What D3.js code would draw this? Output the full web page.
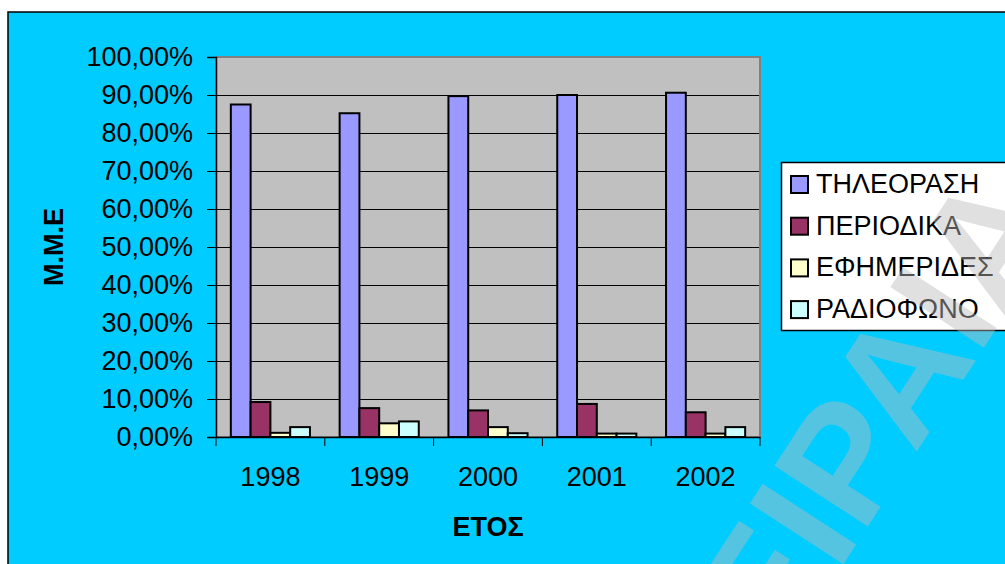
<!DOCTYPE html>
<html>
<head>
<meta charset="utf-8">
<script src="https://cdn.jsdelivr.net/npm/d3@7"></script>
<style>
  body { margin: 0; background: #fff; }
  svg { display: block; font-family: Arial, "Liberation Sans", sans-serif; }
</style>
</head>
<body>
<svg width="1005" height="564"></svg>
<script>
// years on the x axis
var years = ["1998", "1999", "2000", "2001", "2002"];
// media (series)
var series = ["ΤΗΛΕΟΡΑΣΗ", "ΠΕΡΙΟΔΙΚΑ", "ΕΦΗΜΕΡΙΔΕΣ", "ΡΑΔΙΟΦΩΝΟ"];
var seriesColors = ["#9999FF", "#993366", "#FFFFCC", "#CCFFFF"];
// values in percent, one list per medium
var tv = [87.5, 85.2, 89.7, 90.0, 90.6];
var magazines = [9.2, 7.6, 7.0, 8.7, 6.5];
var newspapers = [1.1, 3.6, 2.6, 0.9, 0.9];
var radio = [2.6, 4.1, 1.0, 0.9, 2.6];
var yTicks = [0, 10, 20, 30, 40, 50, 60, 70, 80, 90, 100];

var values = [tv, magazines, newspapers, radio];
var fontSize = 27;

var svg = d3.select("svg");

// chart background (cyan) with black frame
svg.append("rect")
    .attr("x", 8).attr("y", 12)
    .attr("width", 1010).attr("height", 570)
    .attr("fill", "#00CCFF")
    .attr("stroke", "#000")
    .attr("stroke-width", 1.5);

var plot = { left: 216, right: 760, top: 57, bottom: 437 };

var x0 = d3.scaleBand().domain(years).range([plot.left, plot.right]);
var bw = x0.bandwidth();
// excel style gap width 150%
var x1 = d3.scaleBand().domain(series)
    .range([bw * 0.75 / 5.5, bw * 4.75 / 5.5]);
var y = d3.scaleLinear().domain([0, 100]).range([plot.bottom, plot.top]);

// plot area
svg.append("rect")
    .attr("x", plot.left).attr("y", plot.top)
    .attr("width", plot.right - plot.left)
    .attr("height", plot.bottom - plot.top)
    .attr("fill", "#C0C0C0")
    .attr("stroke", "#808080")
    .attr("stroke-width", 2);

// gridlines
svg.append("g")
    .selectAll("line")
    .data(yTicks.filter(function(d) { return d > 0 && d < 100; }))
    .enter().append("line")
    .attr("x1", plot.left).attr("x2", plot.right - 1)
    .attr("y1", function(d) { return Math.round(y(d)) + 0.5; })
    .attr("y2", function(d) { return Math.round(y(d)) + 0.5; })
    .attr("stroke", "#000")
    .attr("stroke-width", 1);

// bars
var groups = svg.append("g")
    .selectAll("g")
    .data(years)
    .enter().append("g")
    .attr("transform", function(d) { return "translate(" + x0(d) + ",0)"; });

groups.selectAll("rect")
    .data(function(d, i) {
        return series.map(function(s, j) { return { s: s, j: j, v: values[j][i] }; });
    })
    .enter().append("rect")
    .attr("x", function(d) { return x1(d.s); })
    .attr("width", x1.bandwidth())
    .attr("y", function(d) { return y(d.v); })
    .attr("height", function(d) { return plot.bottom - y(d.v); })
    .attr("fill", function(d) { return seriesColors[d.j]; })
    .attr("stroke", "#000")
    .attr("stroke-width", 2);

// y axis
var yAxis = d3.axisLeft(y)
    .tickValues(yTicks)
    .tickSize(9)
    .tickPadding(14)
    .tickFormat(function(d) { return d3.format(".2f")(d).replace(".", ",") + "%"; });

svg.append("g")
    .attr("transform", "translate(" + plot.left + ",0)")
    .call(yAxis)
    .call(function(g) {
        g.select(".domain").attr("stroke", "#000").attr("stroke-width", 1.5);
        g.selectAll(".tick line").attr("stroke", "#000");
        g.selectAll("text").attr("font-size", fontSize).attr("fill", "#000")
            .attr("font-family", "Arial, 'Liberation Sans', sans-serif");
    });

// x axis, ticks between categories
var xAxis = d3.axisBottom(x0).tickSize(0).tickPadding(30);
svg.append("g")
    .attr("transform", "translate(0," + plot.bottom + ")")
    .call(xAxis)
    .call(function(g) {
        g.select(".domain").attr("stroke", "#000").attr("stroke-width", 1.5);
        g.selectAll("text").attr("font-size", fontSize).attr("fill", "#000")
            .attr("font-family", "Arial, 'Liberation Sans', sans-serif");
    });

svg.append("g")
    .selectAll("line")
    .data(years.concat(["end"]))
    .enter().append("line")
    .attr("x1", function(d) { return d == "end" ? plot.right : x0(d); })
    .attr("x2", function(d) { return d == "end" ? plot.right : x0(d); })
    .attr("y1", plot.bottom).attr("y2", plot.bottom + 9)
    .attr("stroke", "#000");

// axis titles
svg.append("text")
    .attr("x", (plot.left + plot.right) / 2)
    .attr("y", 536)
    .attr("text-anchor", "middle")
    .attr("font-size", fontSize)
    .attr("font-weight", "bold")
    .text("ΕΤΟΣ");

svg.append("text")
    .attr("transform", "translate(63,247) rotate(-90)")
    .attr("text-anchor", "middle")
    .attr("font-size", fontSize)
    .attr("font-weight", "bold")
    .text("M.M.E");

// legend
var legend = svg.append("g");
legend.append("rect")
    .attr("x", 781.5).attr("y", 162.5)
    .attr("width", 240).attr("height", 168)
    .attr("fill", "#fff")
    .attr("stroke", "#000")
    .attr("stroke-width", 1.5);

var item = legend.selectAll(".legend")
    .data(series)
    .enter().append("g")
    .attr("class", "legend")
    .attr("transform", function(d, i) { return "translate(0," + (193 + i * 41.7) + ")"; });

item.append("rect")
    .attr("x", 791).attr("y", -17)
    .attr("width", 17).attr("height", 17)
    .attr("fill", function(d, i) { return seriesColors[i]; })
    .attr("stroke", "#000")
    .attr("stroke-width", 2);

item.append("text")
    .attr("x", 816)
    .attr("font-size", fontSize)
    .text(function(d) { return d; });

// semi-transparent watermark on top of everything
svg.append("text")
    .attr("transform", "translate(715,762) rotate(-57)")
    .attr("font-size", 162)
    .attr("font-weight", "bold")
    .attr("fill", "rgba(186,186,186,0.45)")
    .text("ΠΕΙΡΑΙΑ");
</script>
</body>
</html>
